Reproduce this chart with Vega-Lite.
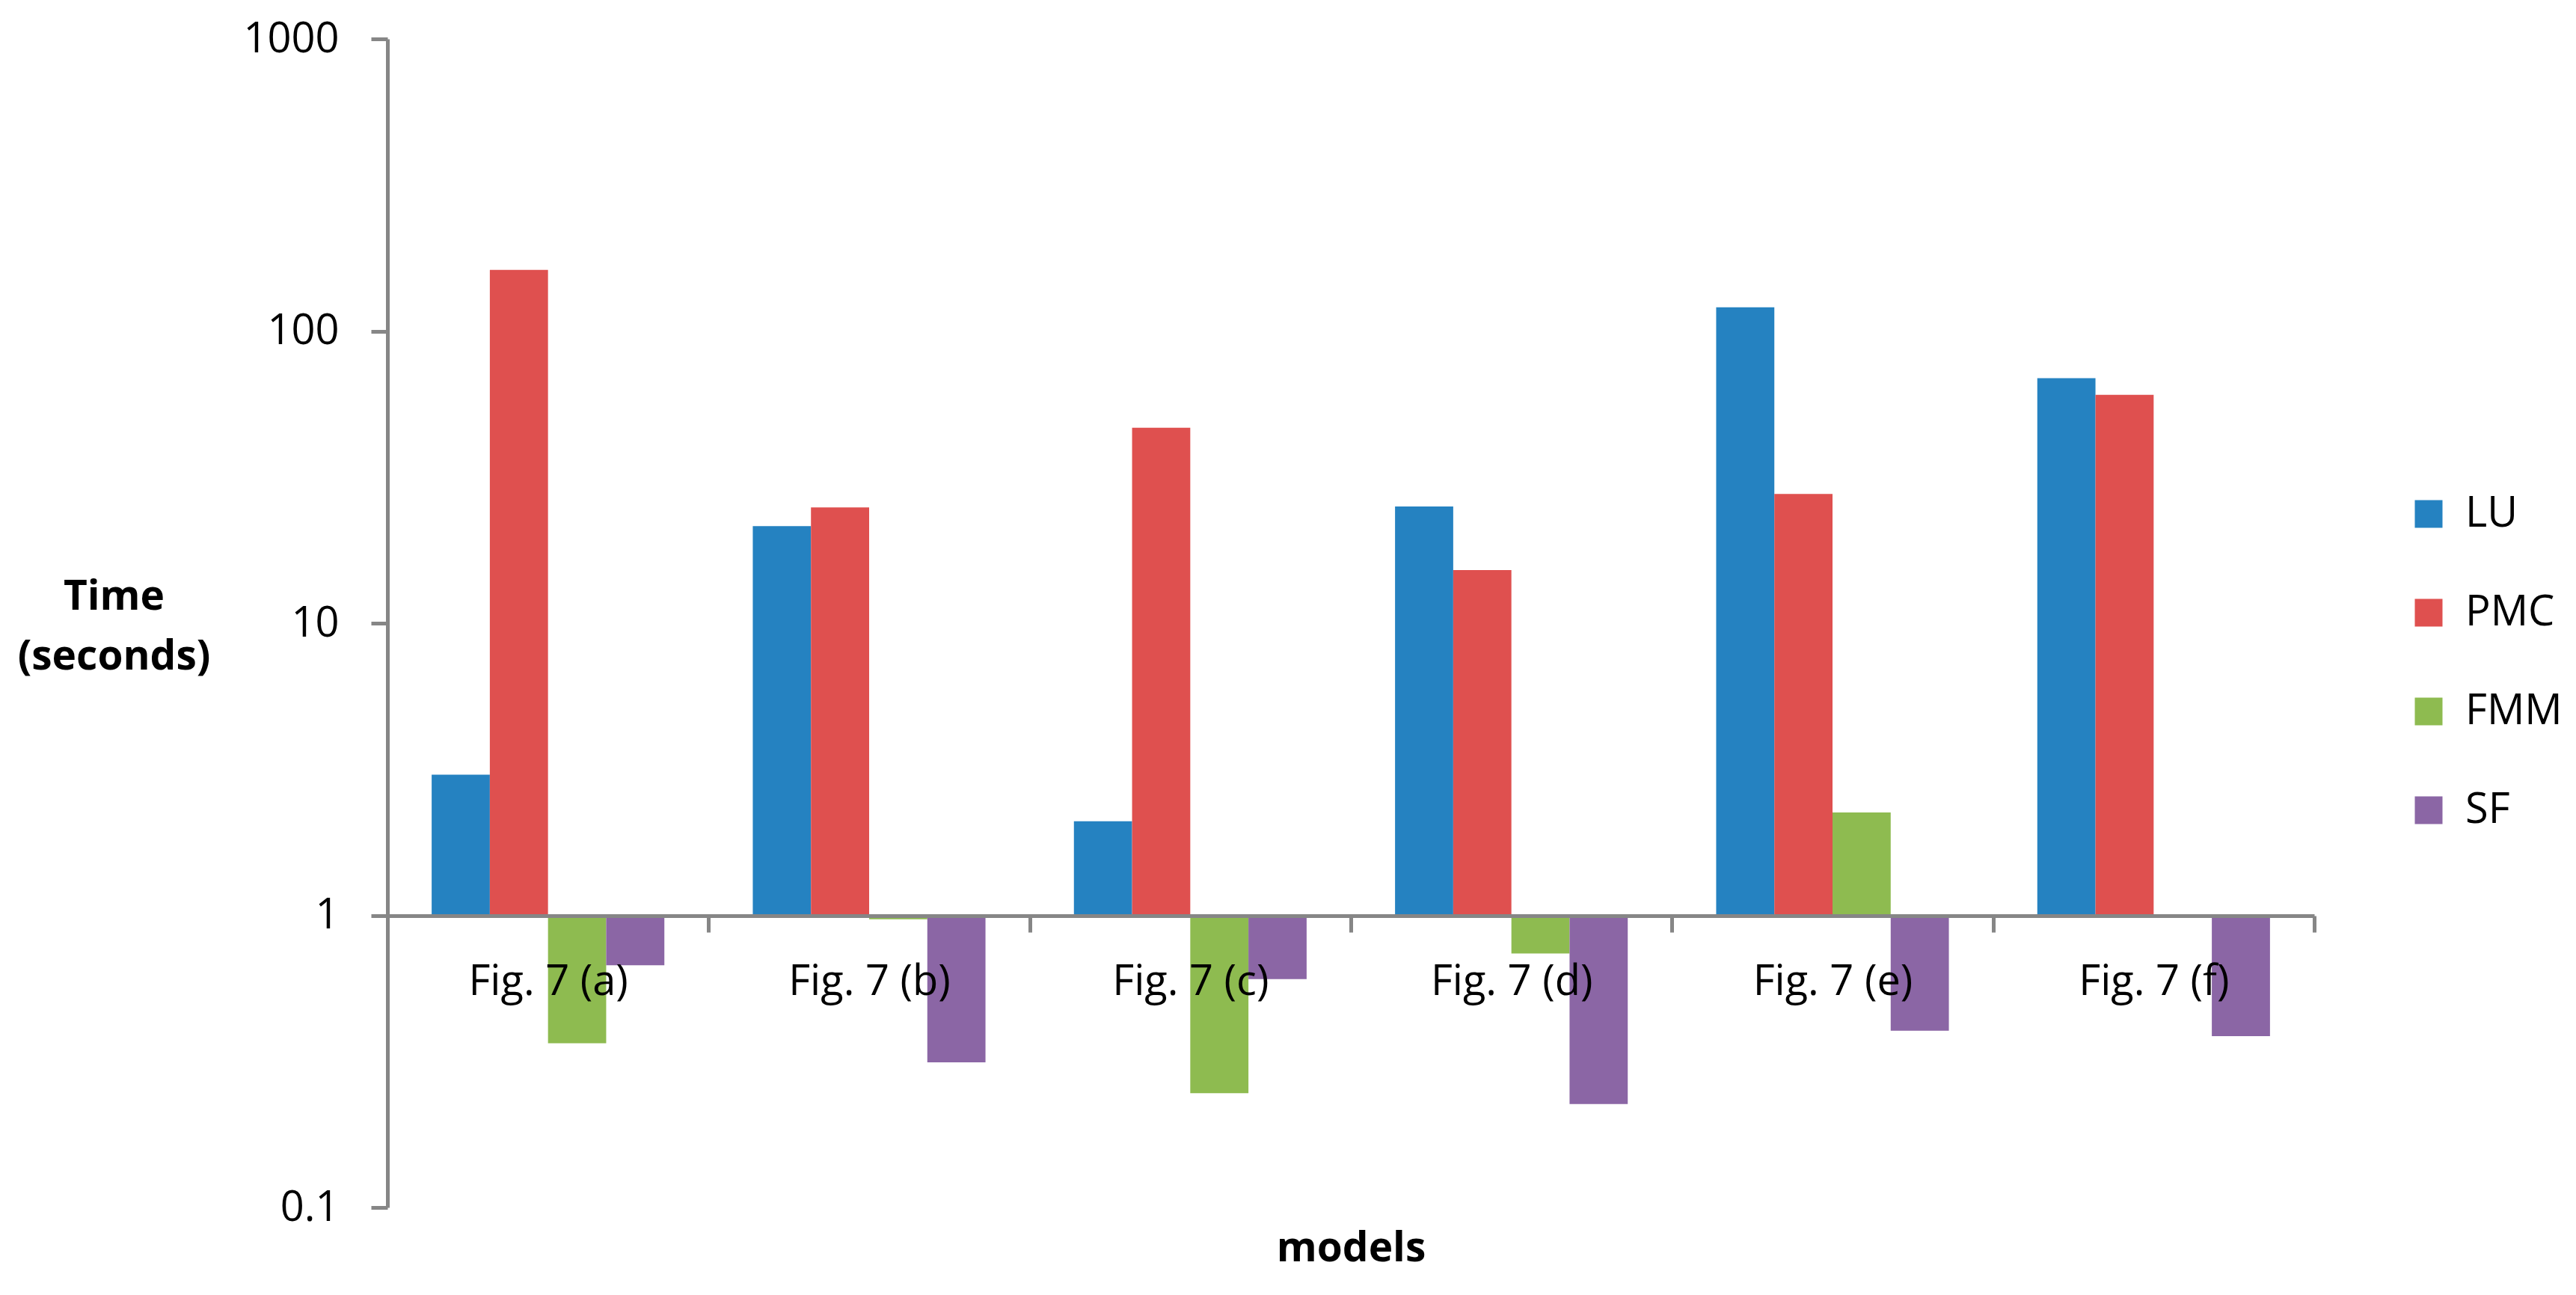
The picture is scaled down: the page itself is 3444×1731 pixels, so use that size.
{
  "$schema": "https://vega.github.io/schema/vega-lite/v6.json",
  "width": 2576,
  "height": 1562,
  "autosize": {"type": "none"},
  "padding": {"left": 518, "top": 52, "right": 350, "bottom": 117},
  "background": "white",
  "data": {
    "values": [
      {"model": "Fig. 7 (a)", "method": "LU", "time": 3.03},
      {"model": "Fig. 7 (a)", "method": "PMC", "time": 162},
      {"model": "Fig. 7 (a)", "method": "FMM", "time": 0.365},
      {"model": "Fig. 7 (a)", "method": "SF", "time": 0.675},
      {"model": "Fig. 7 (b)", "method": "LU", "time": 21.5},
      {"model": "Fig. 7 (b)", "method": "PMC", "time": 24.9},
      {"model": "Fig. 7 (b)", "method": "FMM", "time": 0.97},
      {"model": "Fig. 7 (b)", "method": "SF", "time": 0.314},
      {"model": "Fig. 7 (c)", "method": "LU", "time": 2.1},
      {"model": "Fig. 7 (c)", "method": "PMC", "time": 46.7},
      {"model": "Fig. 7 (c)", "method": "FMM", "time": 0.246},
      {"model": "Fig. 7 (c)", "method": "SF", "time": 0.605},
      {"model": "Fig. 7 (d)", "method": "LU", "time": 25.1},
      {"model": "Fig. 7 (d)", "method": "PMC", "time": 15.2},
      {"model": "Fig. 7 (d)", "method": "FMM", "time": 0.74},
      {"model": "Fig. 7 (d)", "method": "SF", "time": 0.226},
      {"model": "Fig. 7 (e)", "method": "LU", "time": 120.5},
      {"model": "Fig. 7 (e)", "method": "PMC", "time": 27.7},
      {"model": "Fig. 7 (e)", "method": "FMM", "time": 2.25},
      {"model": "Fig. 7 (e)", "method": "SF", "time": 0.403},
      {"model": "Fig. 7 (f)", "method": "LU", "time": 69},
      {"model": "Fig. 7 (f)", "method": "PMC", "time": 60.5},
      {"model": "Fig. 7 (f)", "method": "FMM", "time": 1},
      {"model": "Fig. 7 (f)", "method": "SF", "time": 0.386}
    ]
  },
  "mark": {"type": "bar"},
  "encoding": {
    "x": {
      "field": "model",
      "type": "nominal",
      "sort": null,
      "title": "models",
      "scale": {"paddingInner": 0, "paddingOuter": 0},
      "axis": {
        "orient": "bottom",
        "offset": -390,
        "zindex": 1,
        "tickBand": "extent",
        "domainColor": "#868686",
        "domainWidth": 5,
        "tickColor": "#868686",
        "tickWidth": 5,
        "tickSize": 22,
        "labelAngle": 0,
        "labelLimit": 0,
        "labelFontSize": 56,
        "labelColor": "black",
        "labelPadding": 39,
        "titleFontSize": 55,
        "titleFontWeight": "bold",
        "titleColor": "black",
        "titleY": 444,
        "titleBaseline": "middle"
      }
    },
    "xOffset": {
      "field": "method",
      "type": "nominal",
      "sort": ["LU", "PMC", "FMM", "SF"],
      "scale": {"paddingInner": 0, "paddingOuter": 0.76}
    },
    "y": {
      "field": "time",
      "type": "quantitative",
      "title": ["Time", "(seconds)"],
      "scale": {"type": "log", "domain": [0.1, 1000], "nice": false},
      "axis": {
        "orient": "left",
        "values": [0.1, 1, 10, 100, 1000],
        "format": "~g",
        "grid": false,
        "domainColor": "#868686",
        "domainWidth": 5,
        "tickColor": "#868686",
        "tickWidth": 5,
        "tickSize": 22,
        "labelFontSize": 56,
        "labelColor": "black",
        "labelPadding": 43,
        "titleAngle": 0,
        "titleX": -366,
        "titleY": 745,
        "titleAlign": "center",
        "titleBaseline": "middle",
        "titleFontSize": 55,
        "titleFontWeight": "bold",
        "titleLineHeight": 80,
        "titleColor": "black"
      }
    },
    "y2": {"datum": 1},
    "color": {
      "field": "method",
      "type": "nominal",
      "scale": {
        "domain": ["LU", "PMC", "FMM", "SF"],
        "range": ["#2582C1", "#DF504F", "#8EBB50", "#8B66A5"]
      },
      "legend": {
        "title": null,
        "orient": "none",
        "legendX": 2701,
        "legendY": 607,
        "padding": 0,
        "symbolType": "square",
        "symbolSize": 1369,
        "symbolStrokeWidth": 0,
        "labelFontSize": 56,
        "labelColor": "black",
        "labelOffset": 21,
        "rowPadding": 76
      }
    }
  },
  "config": {
    "view": {"stroke": null},
    "font": "Open Sans"
  }
}
